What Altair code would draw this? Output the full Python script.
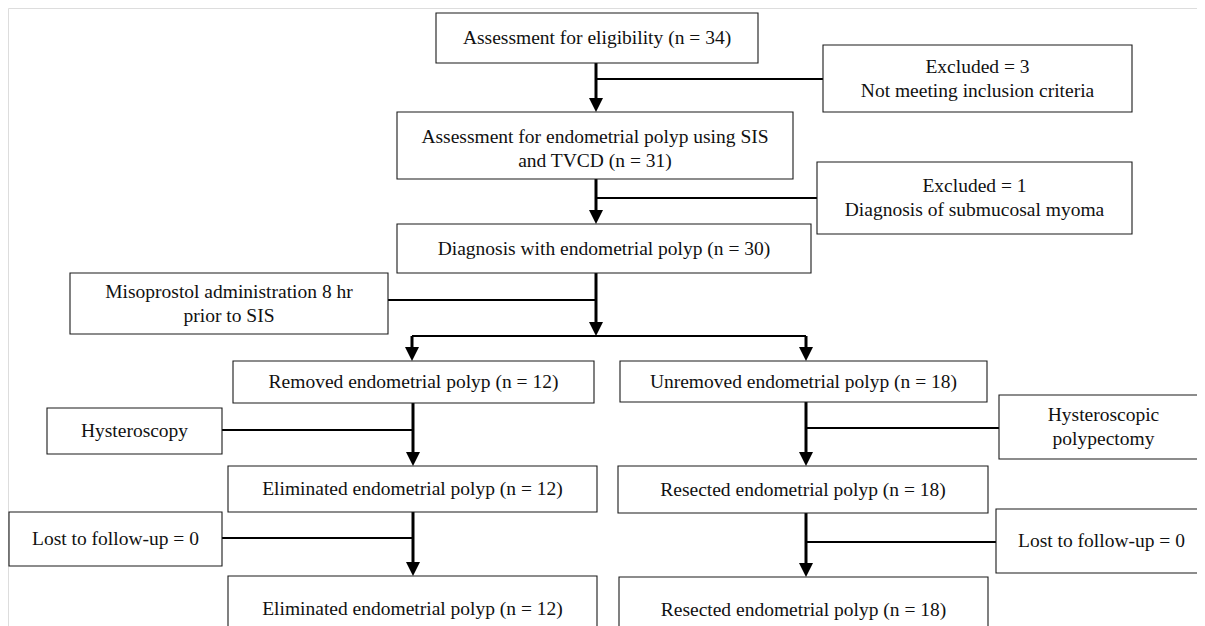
import altair as alt
import pandas as pd

# ---- flowchart content ----
node_labels = [
    "Assessment for eligibility (n = 34)",
    "Excluded = 3\nNot meeting inclusion criteria",
    "Assessment for endometrial polyp using SIS\nand TVCD (n = 31)",
    "Excluded = 1\nDiagnosis of submucosal myoma",
    "Diagnosis with endometrial polyp (n = 30)",
    "Misoprostol administration 8 hr\nprior to SIS",
    "Removed endometrial polyp (n = 12)",
    "Unremoved endometrial polyp (n = 18)",
    "Hysteroscopy",
    "Hysteroscopic\npolypectomy",
    "Eliminated endometrial polyp (n = 12)",
    "Resected endometrial polyp (n = 18)",
    "Lost to follow-up = 0",
    "Lost to follow-up = 0",
    "Eliminated endometrial polyp (n = 12)",
    "Resected endometrial polyp (n = 18)",
]

# ---- layout (page pixel coordinates) ----
node_x0 = [436, 823, 397, 817, 397, 70, 233, 620, 47, 999, 228, 618, 9, 996, 228, 619]
node_x1 = [758, 1132, 793, 1132, 811, 388, 594, 987, 222, 1208, 597, 988, 222, 1207, 597, 988]
node_y0 = [13, 45, 112, 162, 224, 273, 361, 361, 408, 395, 466, 466, 512, 509, 576, 577]
node_y1 = [63, 112, 179, 234, 273, 334, 403, 402, 454, 459, 512, 513, 566, 573, 642, 642]
label_shift = [0, 0, 3, 0, 0, 0, 0, 0, 0, 0, 0, 0, 0, 0, 0, 0]

# main flow (thick) connectors
main_x0 = [596, 596, 596, 412, 806, 413, 413, 806, 806]
main_y0 = [63, 179, 273, 336, 336, 403, 512, 402, 513]
main_y1 = [99, 211, 323, 348, 348, 453, 563, 453, 564]

# side (thin) connectors
side_x0 = [596, 596, 388, 412, 222, 222, 806, 806]
side_x1 = [823, 817, 596, 806, 413, 413, 999, 996]
side_y = [79, 198, 300, 336, 430, 538, 428, 542]

# arrow tips
tip_x = [596, 596, 596, 412, 806, 413, 413, 806, 806]
tip_y = [112, 224, 336, 361, 361, 466, 576, 466, 577]

FONT = "Liberation Serif"
LINE_H = 24
W, H = 1189, 618
xs = alt.Scale(domain=[8, 8 + W], nice=False, zero=False)
ys = alt.Scale(domain=[8, 8 + H], nice=False, zero=False, reverse=True)

nodes = pd.DataFrame({
    "label": node_labels,
    "x0": node_x0, "x1": node_x1, "y0": node_y0, "y1": node_y1,
    "shift": label_shift,
})
nodes["cx"] = (nodes.x0 + nodes.x1) / 2
nodes["nlines"] = nodes.label.str.count("\n") + 1
nodes["ty"] = (nodes.y0 + nodes.y1) / 2 - (nodes.nlines - 1) * LINE_H / 2 + nodes["shift"]

main = pd.DataFrame({"x": main_x0, "y0": main_y0, "y1": main_y1})
side = pd.DataFrame({"x0": side_x0, "x1": side_x1, "y": side_y})
tips = pd.DataFrame({"x": tip_x, "y": [t - 7 for t in tip_y]})

boxes = alt.Chart(nodes).mark_rect(
    fill="white", stroke="#1a1a1a", strokeWidth=1.1, clip=True
).encode(
    x=alt.X("x0:Q", scale=xs, axis=None),
    x2="x1:Q",
    y=alt.Y("y0:Q", scale=ys, axis=None),
    y2="y1:Q",
)

labels = alt.Chart(nodes).mark_text(
    font=FONT, fontSize=19.5, lineBreak="\n", lineHeight=LINE_H,
    align="center", baseline="middle", color="#111111", clip=True
).encode(
    x=alt.X("cx:Q", scale=xs, axis=None),
    y=alt.Y("ty:Q", scale=ys, axis=None),
    text="label:N",
)

main_rules = alt.Chart(main).mark_rule(
    color="#000000", strokeWidth=3
).encode(
    x=alt.X("x:Q", scale=xs, axis=None),
    y=alt.Y("y0:Q", scale=ys, axis=None),
    y2="y1:Q",
)

side_rules = alt.Chart(side).mark_rule(
    color="#000000", strokeWidth=2
).encode(
    x=alt.X("x0:Q", scale=xs, axis=None),
    x2="x1:Q",
    y=alt.Y("y:Q", scale=ys, axis=None),
)

arrows = alt.Chart(tips).mark_point(
    shape="M-1,-1L1,-1L0,1Z", filled=True, size=196, opacity=1,
    color="#000000", strokeWidth=0
).encode(
    x=alt.X("x:Q", scale=xs, axis=None),
    y=alt.Y("y:Q", scale=ys, axis=None),
)

chart = alt.layer(side_rules, main_rules, boxes, labels, arrows).properties(
    width=W, height=H, padding=0, autosize=alt.AutoSizeParams(type="none")
).configure_view(strokeWidth=0, stroke="transparent").configure(background="white")

chart.save("out.html", embed_options={"renderer": "svg", "actions": False})
